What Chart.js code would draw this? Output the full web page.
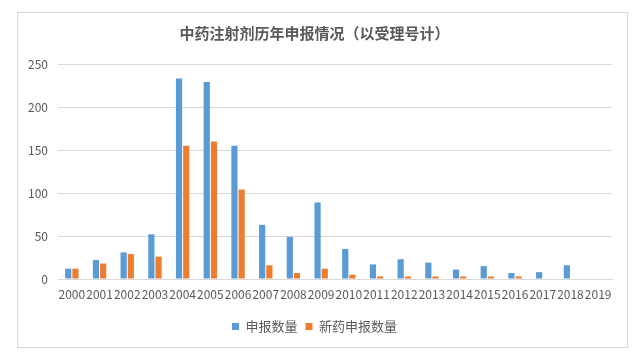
<!DOCTYPE html>
<html><head><meta charset="utf-8">
<script src="https://cdn.jsdelivr.net/npm/chart.js@4"></script>
<style>html,body{margin:0;padding:0;background:#fff;}#wrap{width:642px;height:361px;position:relative;}</style>
</head><body><div id="wrap"><canvas id="c" width="642" height="361"></canvas></div>
<script>
const categories = ['2000','2001','2002','2003','2004','2005','2006','2007','2008','2009','2010','2011','2012','2013','2014','2015','2016','2017','2018','2019'];
const declared = [12,22,31,52,233,229,155,63,49,89,35,17,23,19,11,15,7,8,16,0];
const newDrug = [12,18,29,26,155,160,104,16,7,12,5,3,3,3,3,3,3,0,0,0];
const seriesNames = ['申报数量','新药申报数量'];
const yTicks = [0,50,100,150,200,250];
const titleText = '中药注射剂历年申报情况（以受理号计）';

const borderPlugin = {
  id:'frame',
  beforeDraw(chart){
    const ctx = chart.ctx;
    ctx.save();
    ctx.fillStyle='#fff';
    ctx.fillRect(0,0,chart.width,chart.height);
    ctx.strokeStyle='#d9d9d9';
    ctx.lineWidth=1;
    ctx.strokeRect(17.5,12.5,610,335);
    ctx.restore();
  }
};

new Chart(document.getElementById('c'),{
  type:'bar',
  data:{
    labels:categories,
    datasets:[
      {label:seriesNames[0],data:declared,backgroundColor:'#5B9BD5',barPercentage:0.86,categoryPercentage:0.52},
      {label:seriesNames[1],data:newDrug,backgroundColor:'#ED7D31',barPercentage:0.86,categoryPercentage:0.52}
    ]
  },
  plugins:[borderPlugin],
  options:{
    responsive:false,
    animation:false,
    layout:{padding:{left:17,right:30,top:12,bottom:18}},
    plugins:{
      title:{display:true,text:titleText,color:'#595959',font:{family:'"Noto Sans CJK SC"',size:15,weight:'bold'},padding:{top:12,bottom:22}},
      legend:{position:'bottom',labels:{color:'#595959',font:{family:'"Noto Sans CJK SC"',size:13},boxWidth:7,boxHeight:7,padding:8}},
      tooltip:{enabled:false}
    },
    scales:{
      x:{
        grid:{display:false},
        border:{color:'#d9d9d9'},
        ticks:{color:'#595959',font:{family:'"Noto Sans CJK SC"',size:12},autoSkip:false,maxRotation:0,minRotation:0,padding:0},
        afterFit(s){s.height=33;}
      },
      y:{
        min:0,max:250,
        afterBuildTicks(s){s.ticks=yTicks.map(v=>({value:v}));},
        grid:{color:'#d9d9d9',drawTicks:false},
        border:{display:false},
        ticks:{color:'#595959',font:{family:'"Noto Sans CJK SC"',size:12},padding:10},
        afterFit(s){s.width=41;}
      }
    }
  }
});
</script></body></html>
